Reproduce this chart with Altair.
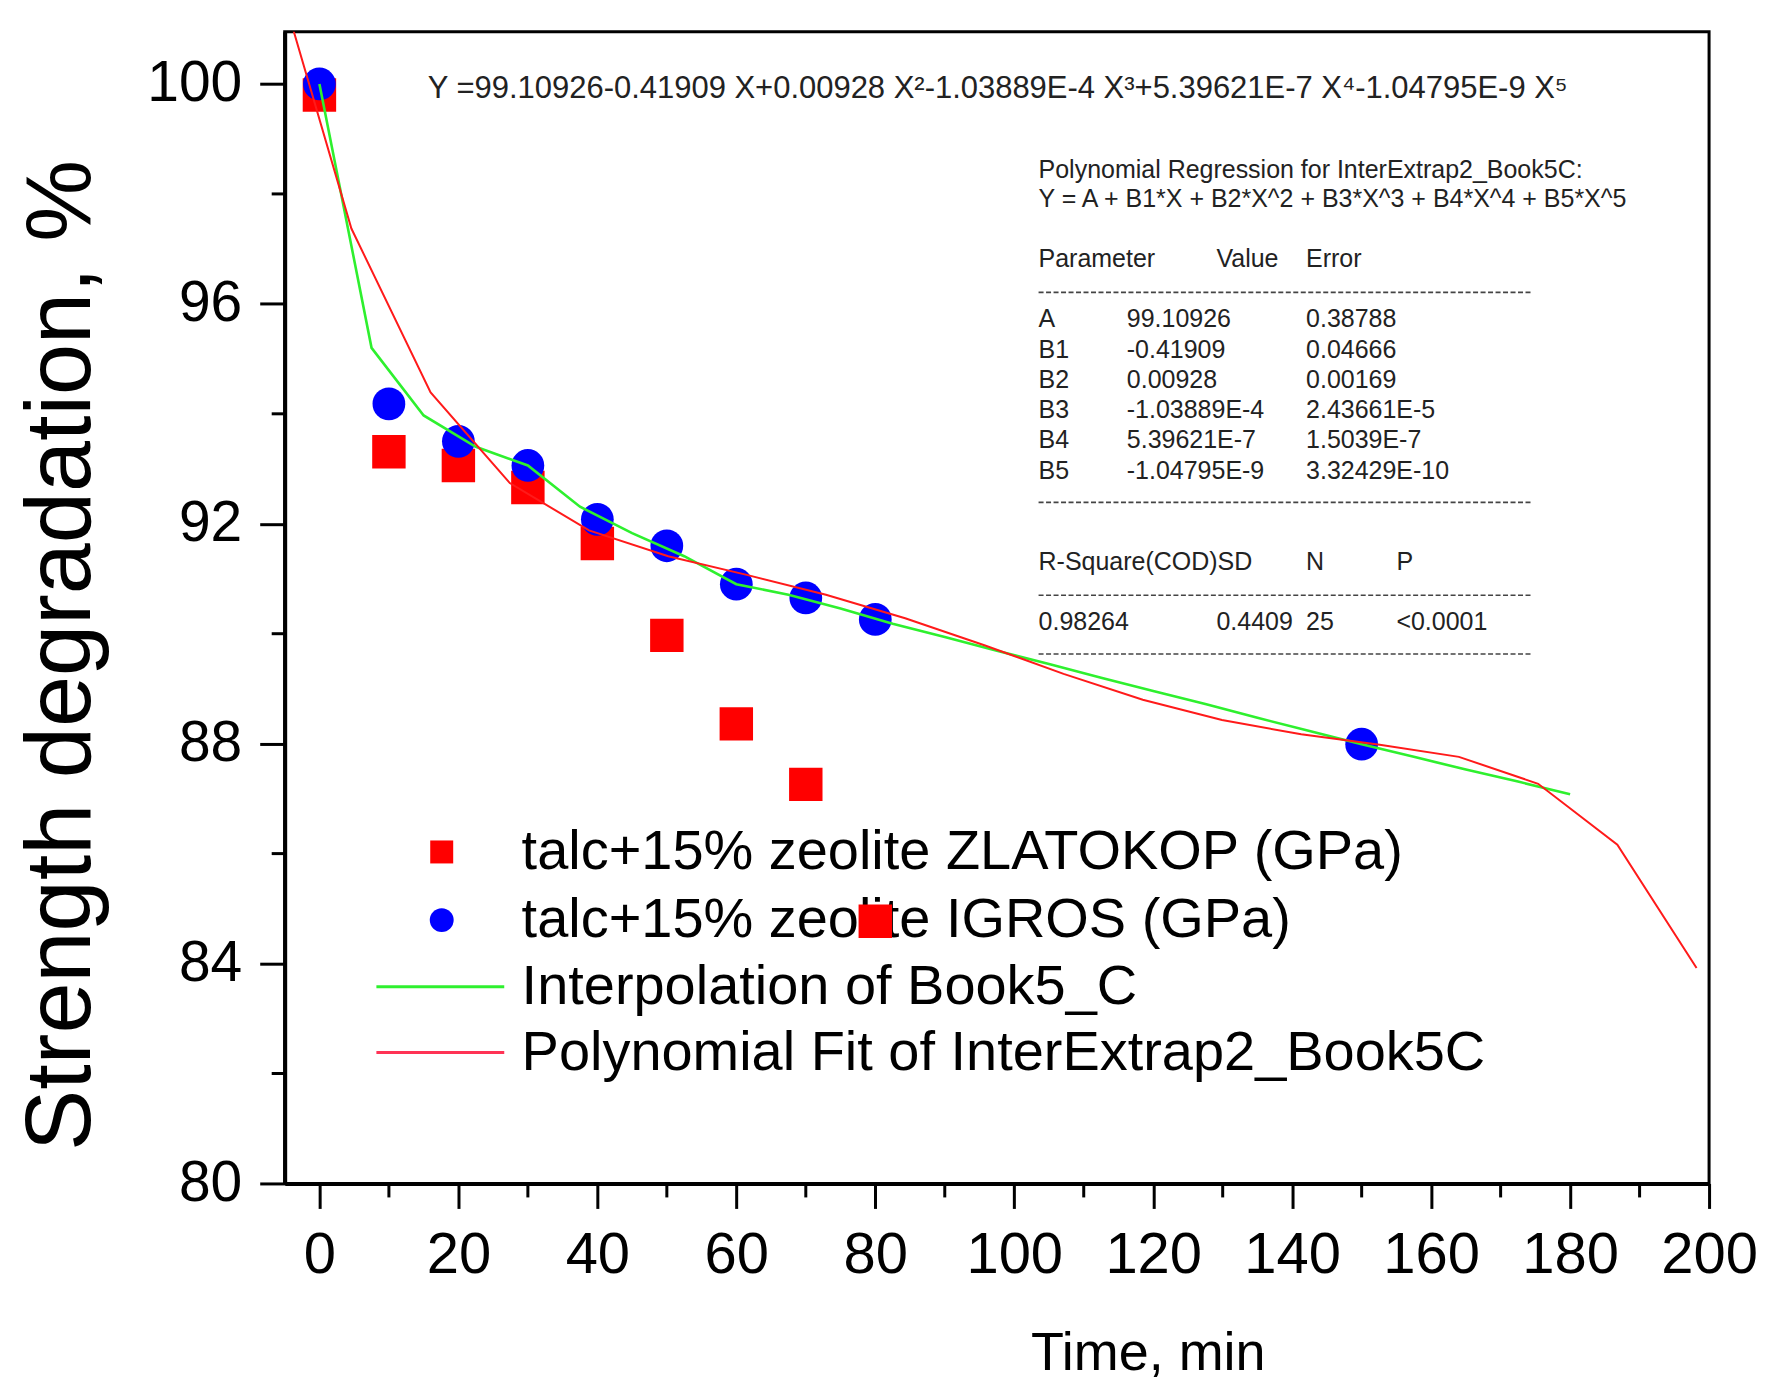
import altair as alt
import pandas as pd

# ---------------- data ----------------
time_pts = [0, 10, 20, 30, 40, 50, 60, 70, 80]
zlatokop = [99.80, 93.31, 93.06, 92.66, 91.64, 89.97, 88.36, 87.26, 84.77]

igros_time = [0, 10, 20, 30, 40, 50, 60, 70, 80, 150]
igros = [100.00, 94.18, 93.50, 93.06, 92.08, 91.60, 90.90, 90.65, 90.26, 87.99]

interp_time = [0, 7.5, 15, 22.5, 30, 37.5, 45, 52.5, 60, 67.5, 75, 82.5, 90,
               97.5, 105, 112.5, 120, 127.5, 135, 142.5, 150, 157.5, 165, 172.5, 180]
interp_vals = [100.00, 95.20, 93.97, 93.40, 93.06, 92.31, 91.83, 91.41, 90.90,
               90.71, 90.46, 90.18, 89.94, 89.69, 89.45, 89.20, 88.96, 88.72,
               88.47, 88.23, 87.99, 87.76, 87.53, 87.31, 87.08]

fit_time = [-6.8, 4.6, 16.0, 27.4, 38.8, 50.2, 61.5, 72.9, 84.3, 95.7, 107.1,
            118.5, 129.9, 141.3, 152.6, 164.0, 175.4, 186.8, 198.2]
fit_vals = [102.30, 97.37, 94.39, 92.74, 91.88, 91.41, 91.07, 90.71, 90.28,
            89.79, 89.27, 88.80, 88.43, 88.17, 87.98, 87.76, 87.27, 86.16, 83.92]

x_major = [0, 20, 40, 60, 80, 100, 120, 140, 160, 180, 200]
x_minor = [10, 30, 50, 70, 90, 110, 130, 150, 170, 190]
y_major = [80, 84, 88, 92, 96, 100]
y_minor = [82, 86, 90, 94, 98]

series_names = ["talc+15% zeolite ZLATOKOP (GPa)", "talc+15% zeolite IGROS (GPa)",
                "Interpolation of Book5_C", "Polynomial Fit of InterExtrap2_Book5C"]

equation = ("Y =99.10926-0.41909 X+0.00928 X\u00b2-1.03889E-4 X\u00b3"
            "+5.39621E-7 X\u2074-1.04795E-9 X\u2075")

params = ["A", "B1", "B2", "B3", "B4", "B5"]
param_values = ["99.10926", "-0.41909", "0.00928", "-1.03889E-4", "5.39621E-7", "-1.04795E-9"]
param_errors = ["0.38788", "0.04666", "0.00169", "2.43661E-5", "1.5039E-7", "3.32429E-10"]

# annotation anchor positions (in data units)
tab_cols = [103.5, 116.2, 129.1, 142.0, 155.0]
tab_rows = [98.44, 97.90, 96.81, 95.72, 95.16, 94.61, 94.07, 93.52, 92.96, 91.30, 90.21]
dash_rows = [96.21, 92.39, 90.70, 89.63]
dash_end = 174.4
eq_pos = (15.6, 99.91)
leg_sym_x = 17.6
leg_line_x = (8.2, 26.6)
leg_text_x = 29.1
leg_rows = [86.03, 84.79, 83.58, 82.38]

# ---------------- tables ----------------
pts_red = pd.DataFrame({"x": time_pts, "y": zlatokop})
pts_blue = pd.DataFrame({"x": igros_time, "y": igros})
interp = pd.DataFrame({"x": interp_time, "y": interp_vals})
fit = pd.DataFrame({"x": fit_time, "y": fit_vals})

tab = [(0, 0, "Polynomial Regression for InterExtrap2_Book5C:"),
       (0, 1, "Y = A + B1*X + B2*X^2 + B3*X^3 + B4*X^4 + B5*X^5"),
       (0, 2, "Parameter"), (2, 2, "Value"), (3, 2, "Error")]
for i, (p, v, e) in enumerate(zip(params, param_values, param_errors)):
    tab += [(0, 3 + i, p), (1, 3 + i, v), (3, 3 + i, e)]
tab += [(0, 9, "R-Square(COD)SD"), (3, 9, "N"), (4, 9, "P"),
        (0, 10, "0.98264"), (2, 10, "0.4409"), (3, 10, "25"), (4, 10, "<0.0001")]
tab_df = pd.DataFrame({"x": [tab_cols[c] for c, r, t in tab],
                       "y": [tab_rows[r] for c, r, t in tab],
                       "t": [t for c, r, t in tab]})
dash_df = pd.DataFrame({"x": [tab_cols[0]] * len(dash_rows),
                        "x2": [dash_end] * len(dash_rows), "y": dash_rows})
eq_df = pd.DataFrame({"x": [eq_pos[0]], "y": [eq_pos[1]], "t": [equation]})

leg_text_df = pd.DataFrame({"x": [leg_text_x] * 4, "y": leg_rows, "t": series_names})
leg_sq_df = pd.DataFrame({"x": [leg_sym_x], "y": [leg_rows[0]]})
leg_ci_df = pd.DataFrame({"x": [leg_sym_x], "y": [leg_rows[1]]})
leg_line_df = pd.DataFrame({"x": [leg_line_x[0]] * 2, "x2": [leg_line_x[1]] * 2,
                            "y": leg_rows[2:], "c": ["green", "red"]})

xminor_df = pd.DataFrame({"x": x_minor})
yminor_df = pd.DataFrame({"y": y_minor})

# ---------------- encodings ----------------
FONT = "Liberation Sans, Arial, DejaVu Sans"
xscale = alt.Scale(domain=[-5, 200], nice=False, zero=False)
yscale = alt.Scale(domain=[80, 100.95], nice=False, zero=False)
W, H = 1426, 1153

xaxis = alt.Axis(values=x_major, title="Time, min", grid=False, labelFontSize=58,
                 labelPadding=18, labelFlush=False, labelOverlap=False,
                 tickSize=25, tickWidth=3, domainWidth=4,
                 titleFontSize=54, titleFontWeight="normal", titleX=864, titleY=186,
                 titleAlign="center", titleBaseline="alphabetic")
yaxis = alt.Axis(values=y_major, title="Strength degradation, %", grid=False,
                 labelFontSize=57, labelPadding=18, labelFlush=False, labelOverlap=False,
                 tickSize=25, tickWidth=3, domainWidth=4,
                 titleFontSize=92, titleFontWeight="normal", titleX=-223, titleY=624,
                 titleAlign="center", titleBaseline="middle", titleAngle=-90)

X = alt.X("x:Q", scale=xscale, axis=xaxis)
Y = alt.Y("y:Q", scale=yscale, axis=yaxis)

red_pts = alt.Chart(pts_red).mark_point(shape="square", filled=True, color="#FF0000",
                                        opacity=1, size=1120).encode(x=X, y=Y)
blue_pts = alt.Chart(pts_blue).mark_point(shape="circle", filled=True, color="#0000FF",
                                          opacity=1, size=1075).encode(x=X, y=Y)
green_line = alt.Chart(interp).mark_line(color="#2EF02E", strokeWidth=2.6).encode(x=X, y=Y)
red_line = alt.Chart(fit).mark_line(color="#FF1A1A", strokeWidth=2, clip=True).encode(x=X, y=Y)

x_minor_ticks = alt.Chart(xminor_df).mark_rule(color="black", strokeWidth=3).encode(
    x=X, y=alt.value(H), y2=alt.value(H + 14))
y_minor_ticks = alt.Chart(yminor_df).mark_rule(color="black", strokeWidth=3).encode(
    y=Y, x=alt.value(0), x2=alt.value(-13))

eq_text = alt.Chart(eq_df).mark_text(align="left", baseline="middle", font=FONT,
                                     fontSize=31, color="#222222").encode(x=X, y=Y, text="t:N")
tab_text = alt.Chart(tab_df).mark_text(align="left", baseline="middle", font=FONT,
                                       fontSize=25, color="#222222").encode(x=X, y=Y, text="t:N")
tab_dash = alt.Chart(dash_df).mark_rule(color="#444444", strokeWidth=1.6,
                                        strokeDash=[5, 2.5]).encode(x=X, x2="x2:Q", y=Y)

leg_text = alt.Chart(leg_text_df).mark_text(align="left", baseline="middle", font=FONT,
                                            fontSize=56, color="black").encode(x=X, y=Y, text="t:N")
leg_sq = alt.Chart(leg_sq_df).mark_point(shape="square", filled=True, color="#FF0000",
                                         opacity=1, size=529).encode(x=X, y=Y)
leg_ci = alt.Chart(leg_ci_df).mark_point(shape="circle", filled=True, color="#0000FF",
                                         opacity=1, size=573).encode(x=X, y=Y)
leg_lines = alt.Chart(leg_line_df).mark_rule(strokeWidth=3).encode(
    x=X, x2="x2:Q", y=Y,
    color=alt.Color("c:N", scale=alt.Scale(domain=["green", "red"],
                                           range=["#2EF02E", "#FF3355"]), legend=None))

chart = alt.layer(
    x_minor_ticks, y_minor_ticks,
    eq_text, tab_text, tab_dash,
    leg_text, leg_sq, leg_ci, leg_lines,
    red_pts, blue_pts, green_line, red_line,
).properties(
    width=W, height=H,
    autosize=alt.AutoSizeParams(type="none"),
    padding={"left": 277, "top": 23, "right": 60, "bottom": 200},
    background="white",
).configure_view(
    stroke="black", strokeWidth=3
).configure_axis(
    labelFont=FONT, titleFont=FONT, labelColor="black", titleColor="black",
    domainColor="black", tickColor="black"
)

chart.save("out.html", embed_options={"renderer": "svg", "actions": False})
